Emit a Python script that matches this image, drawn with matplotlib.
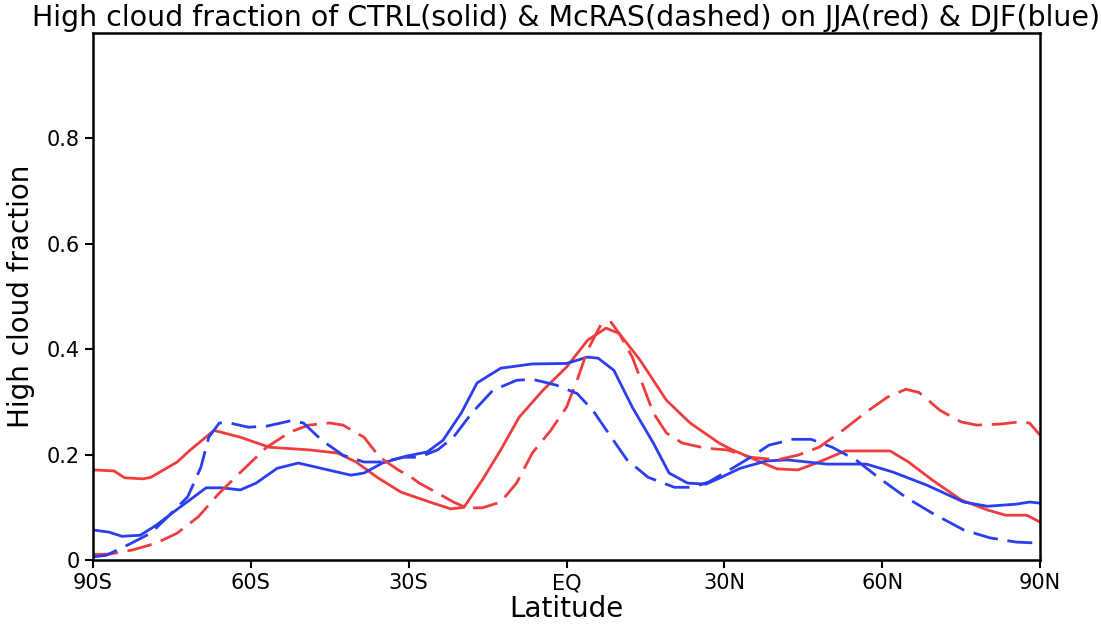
# Fraccion de nubes altas por latitud: CTRL vs McRAS, JJA y DJF
import matplotlib.pyplot as plt

# JJA CTRL (rojo, continua)
lat_jja_ctrl = [-90, -86, -84, -80.5, -79, -74, -71.5, -67, -62, -56.5, -49, -43.5, -40, -36, -31.5,
                -26, -22, -19.5, -16, -12.5, -9, -4.5, 0, 4, 7.5, 10, 14, 19, 23.5, 29, 31.5, 40,
                44, 47.5, 53, 61.5, 65, 69.5, 75, 80, 83.5, 87.5, 90]
jja_ctrl = [0.171, 0.169, 0.156, 0.154, 0.157, 0.186, 0.209, 0.246, 0.233, 0.214, 0.209, 0.203, 0.186,
            0.157, 0.129, 0.11, 0.097, 0.100, 0.152, 0.209, 0.271, 0.322, 0.366, 0.417, 0.440, 0.430,
            0.379, 0.303, 0.260, 0.222, 0.209, 0.173, 0.171, 0.184, 0.207, 0.207, 0.186, 0.152,
            0.114, 0.095, 0.085, 0.085, 0.072]

# DJF CTRL (azul, continua)
lat_djf_ctrl = [-90, -87, -84.5, -81, -78, -73.5, -68.5, -65.5, -62, -59, -55, -51, -47.5, -41, -38.5,
                -35, -30.5, -26.5, -23.5, -20, -17, -12.5, -6.5, 0, 4, 6, 9, 12.5, 16.5, 19.5, 23,
                26.5, 29, 33, 38, 42, 49.5, 57, 62, 68.5, 75.5, 80, 85.5, 88, 90]
djf_ctrl = [0.057, 0.053, 0.045, 0.047, 0.066, 0.100, 0.137, 0.137, 0.133, 0.146, 0.174, 0.184, 0.176,
            0.161, 0.165, 0.184, 0.197, 0.205, 0.227, 0.279, 0.336, 0.364, 0.372, 0.373, 0.385,
            0.383, 0.360, 0.290, 0.222, 0.165, 0.146, 0.144, 0.155, 0.174, 0.188, 0.190, 0.182,
            0.182, 0.167, 0.142, 0.110, 0.102, 0.106, 0.110, 0.108]

# JJA McRAS (rojo, discontinua)
lat_jja_mcras = [-90, -87, -82.5, -78, -74, -70, -66, -61.5, -57, -52.5, -49, -45, -42.5, -38.5, -35.5,
                 -32, -29.5, -28, -24.5, -21.5, -19, -16, -12.5, -9.5, -6.5, -3, 0, 2, 4, 6.5, 8.5,
                 10, 12.5, 16.5, 19, 22, 26.5, 30.5, 35, 40, 44, 48, 52.5, 57, 61, 64.5, 67, 71, 75,
                 78, 82.5, 86, 88, 90]
jja_mcras = [0.011, 0.011, 0.019, 0.032, 0.051, 0.082, 0.127, 0.171, 0.214, 0.243, 0.256, 0.260, 0.256,
             0.233, 0.195, 0.171, 0.157, 0.146, 0.127, 0.110, 0.099, 0.099, 0.110, 0.146, 0.203,
             0.246, 0.290, 0.341, 0.398, 0.446, 0.451, 0.430, 0.385, 0.279, 0.241, 0.222, 0.212,
             0.209, 0.195, 0.190, 0.199, 0.214, 0.246, 0.281, 0.309, 0.324, 0.318, 0.284, 0.262,
             0.256, 0.258, 0.262, 0.260, 0.237]

# DJF McRAS (azul, discontinua)
lat_djf_mcras = [-90, -87.5, -83.5, -79, -76, -72, -69.5, -68, -66, -64, -60.5, -57, -52.5, -50, -46.5,
                 -42.5, -38.5, -35, -31, -28, -24.5, -21.5, -18, -14, -9.5, -6.5, -2, 2, 5, 8.5,
                 11.5, 15.5, 20.5, 24, 27, 31, 35, 38.5, 43, 46.5, 50.5, 55, 59.5, 64.5, 69.5, 75.5,
                 80.5, 85.5, 90]
djf_mcras = [0.006, 0.009, 0.028, 0.051, 0.080, 0.120, 0.176, 0.233, 0.260, 0.260, 0.252, 0.254, 0.264,
             0.260, 0.227, 0.199, 0.186, 0.186, 0.195, 0.195, 0.209, 0.233, 0.279, 0.322, 0.341,
             0.343, 0.332, 0.316, 0.284, 0.233, 0.190, 0.157, 0.138, 0.138, 0.148, 0.171, 0.195,
             0.218, 0.229, 0.229, 0.214, 0.190, 0.155, 0.119, 0.089, 0.057, 0.042, 0.034, 0.032]

xticks = [-90, -60, -30, 0, 30, 60, 90]
xlabels = ['90S', '60S', '30S', 'EQ', '30N', '60N', '90N']
yticks = [0, 0.2, 0.4, 0.6, 0.8]
ylabels = ['0', '0.2', '0.4', '0.6', '0.8']

rojo = '#f03c3c'
azul = '#2a3ef0'

fig = plt.figure(figsize=(11.01, 6.26), dpi=100)
ax = fig.add_axes([0.0845, 0.1054, 0.8601, 0.8419])

ax.plot(lat_jja_ctrl, jja_ctrl, color=rojo, lw=2)
ax.plot(lat_djf_ctrl, djf_ctrl, color=azul, lw=2)
ax.plot(lat_jja_mcras, jja_mcras, color=rojo, lw=2, dashes=(9, 3.5))
ax.plot(lat_djf_mcras, djf_mcras, color=azul, lw=2, dashes=(9, 3.5))

ax.set_xlim(-90, 90)
ax.set_ylim(0, 1.0)
ax.set_xticks(xticks)
ax.set_xticklabels(xlabels)
ax.set_yticks(yticks)
ax.set_yticklabels(ylabels)
ax.tick_params(direction='out', length=6, width=1.5, labelsize=15)
for s in ax.spines.values():
    s.set_linewidth(1.8)

ax.set_xlabel('Latitude', fontsize=20, labelpad=1)
ax.set_ylabel('High cloud fraction', fontsize=20, labelpad=8)
ax.set_title('High cloud fraction of CTRL(solid) & McRAS(dashed) on JJA(red) & DJF(blue)',
             fontsize=20.5, pad=5)

plt.savefig('out.png', dpi=100)
